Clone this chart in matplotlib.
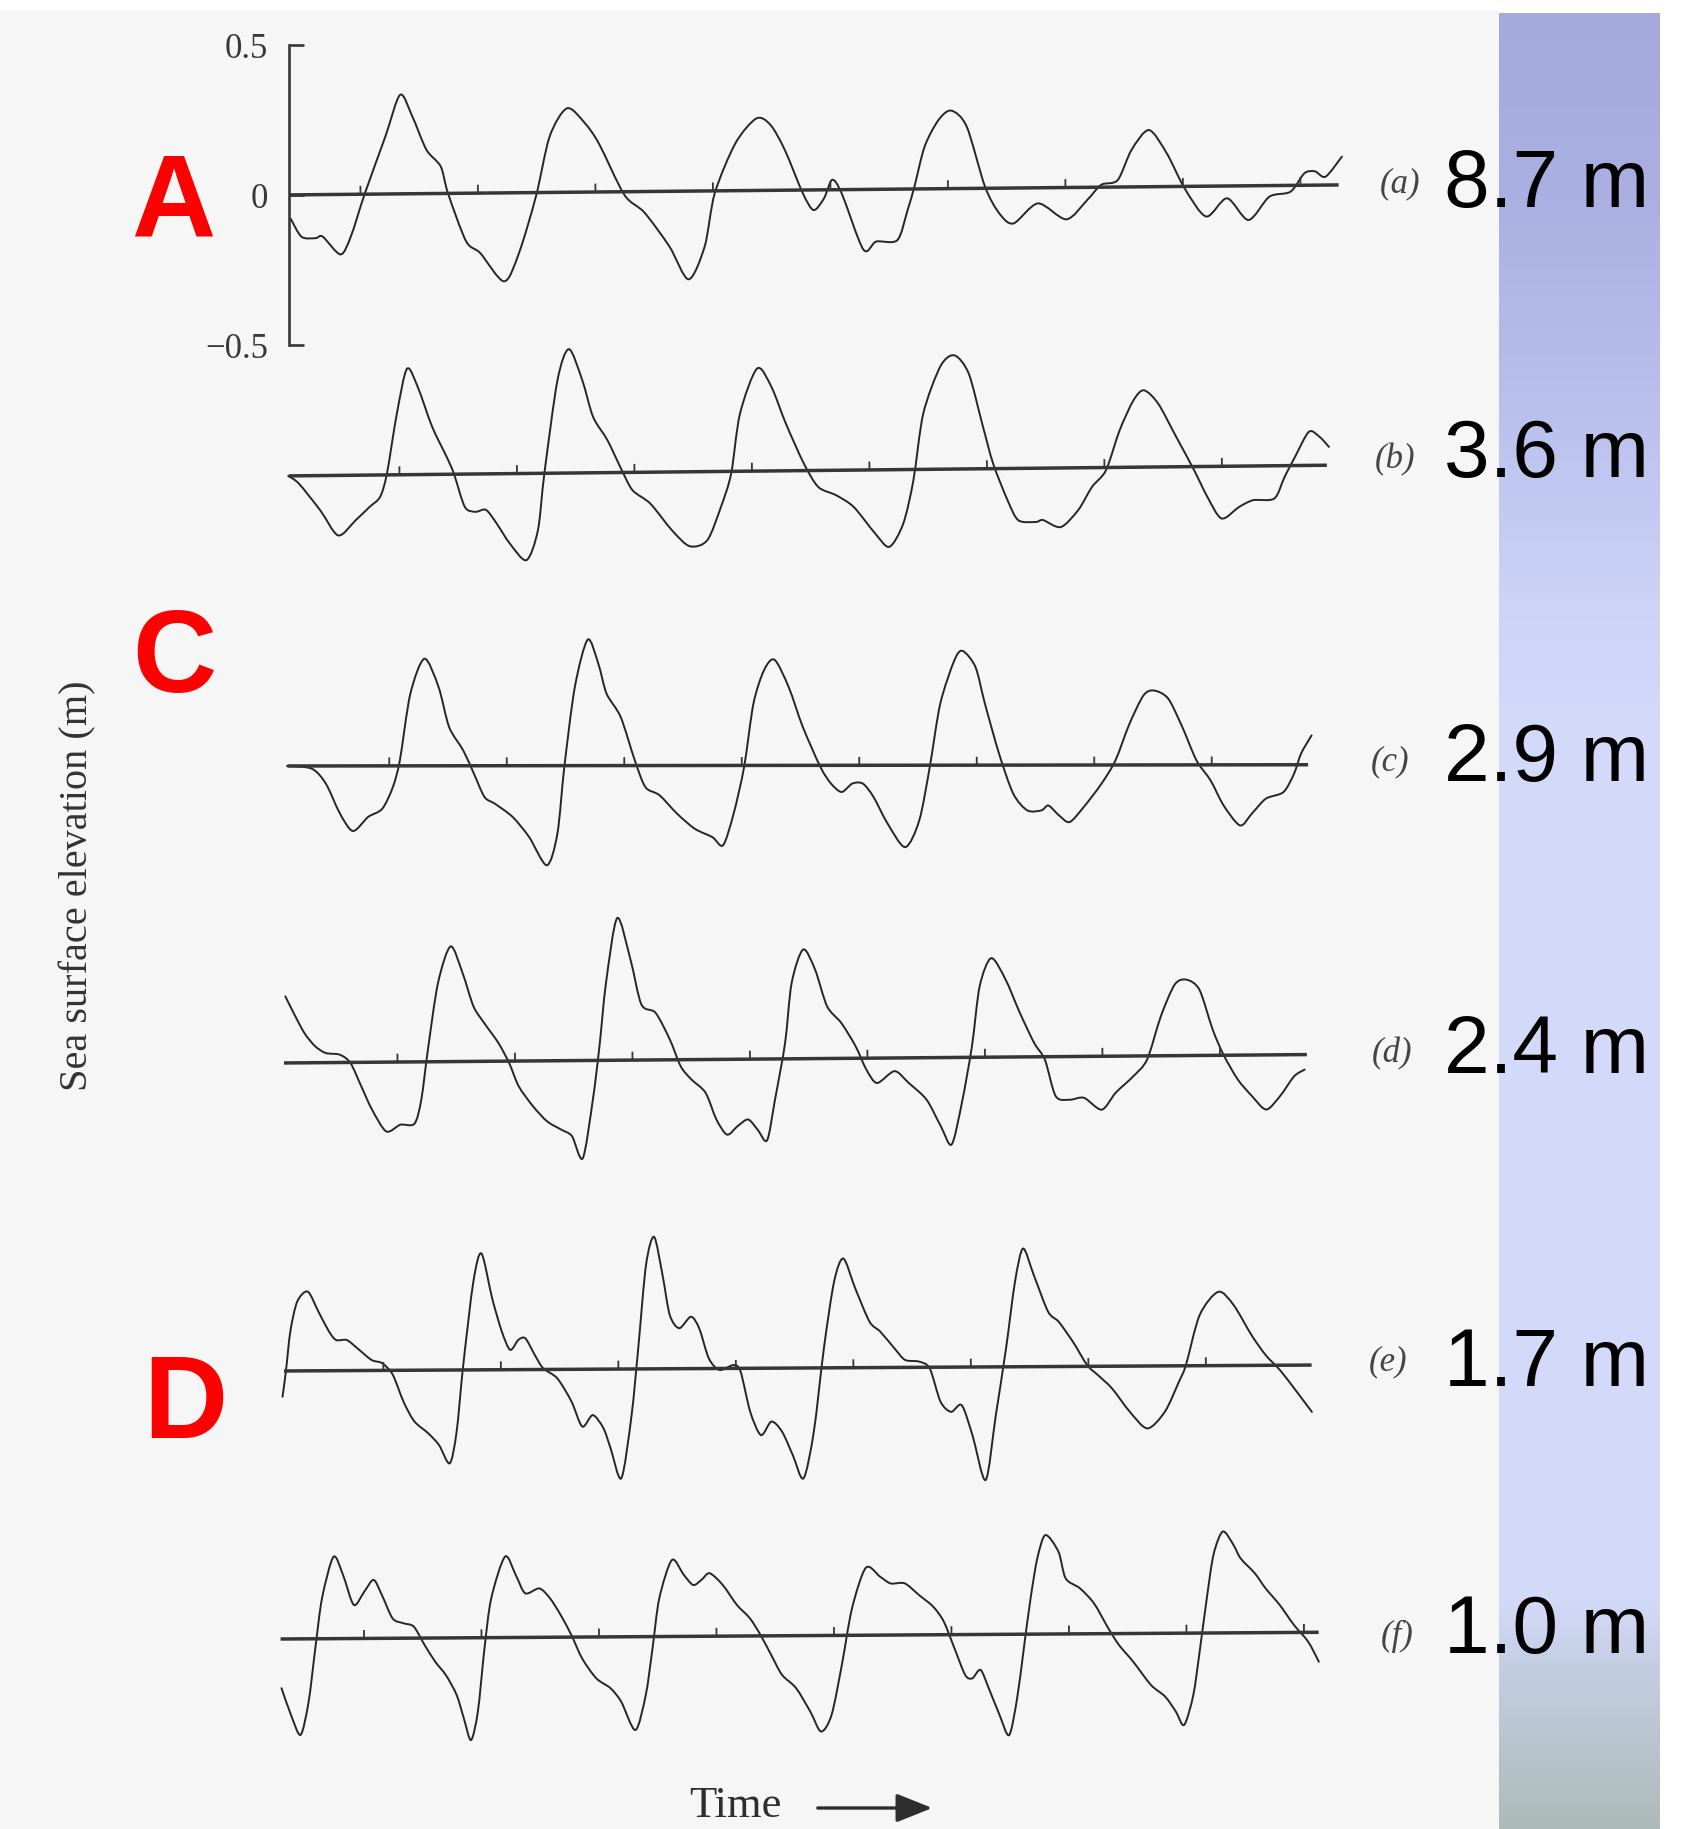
import numpy as np
import matplotlib
matplotlib.use("Agg")
import matplotlib.pyplot as plt
from matplotlib.colors import to_rgb
from matplotlib.patches import Rectangle, FancyArrowPatch, PathPatch
from matplotlib.path import Path
from matplotlib.transforms import Affine2D

# ---------------------------------------------------------------------------
# Sea surface elevation records (time in record units, elevation in metres)
# ---------------------------------------------------------------------------
T_A = [0.09, 0.18, 0.30, 0.36, 0.51, 0.60, 0.72, 0.90, 1.03, 1.13, 1.25, 1.37, 1.43, 1.58, 1.70,
       1.90, 2.03, 2.18, 2.30, 2.45, 2.60, 2.72, 2.93, 3.10, 3.31, 3.47, 3.61, 3.70, 3.88, 4.06,
       4.18, 4.30, 4.45, 4.54, 4.63, 4.70, 4.78, 4.96, 5.07, 5.25, 5.34, 5.40, 5.49, 5.61, 5.72,
       5.85, 6.00, 6.12, 6.24, 6.45, 6.69, 6.87, 6.99, 7.13, 7.25, 7.40, 7.55, 7.70, 7.88, 8.06,
       8.24, 8.42, 8.60, 8.72, 8.81, 8.90, 9.04]
ETA_A = [-0.08, -0.14, -0.145, -0.14, -0.20, -0.14, 0.0, 0.19, 0.33, 0.26, 0.146, 0.09, 0.0, -0.16,
         -0.20, -0.295, -0.20, -0.01, 0.187, 0.28, 0.23, 0.16, -0.01, -0.07, -0.184, -0.294,
         -0.185, -0.008, 0.158, 0.24, 0.218, 0.134, -0.011, -0.067, -0.028, 0.033, -0.012, -0.20,
         -0.174, -0.17, -0.07, 0.008, 0.141, 0.229, 0.26, 0.206, 0.006, -0.084, -0.118, -0.052,
         -0.106, -0.042, 0.008, 0.023, 0.123, 0.189, 0.111, -0.007, -0.101, -0.041, -0.114,
         -0.037, -0.021, 0.04, 0.046, 0.028, 0.094]

T_B = [0.07, 0.16, 0.34, 0.49, 0.64, 0.76, 0.85, 0.91, 1.00, 1.09, 1.18, 1.30, 1.42, 1.48, 1.57,
       1.66, 1.75, 1.84, 1.95, 2.09, 2.19, 2.25, 2.37, 2.47, 2.58, 2.67, 2.79, 2.91, 3.00, 3.15,
       3.33, 3.48, 3.63, 3.75, 3.84, 3.92, 4.07, 4.19, 4.31, 4.46, 4.58, 4.73, 4.88, 5.06, 5.18,
       5.30, 5.39, 5.48, 5.63, 5.75, 5.87, 5.98, 6.07, 6.19, 6.28, 6.43, 6.49, 6.64, 6.79, 6.91,
       7.03, 7.15, 7.27, 7.36, 7.48, 7.63, 7.78, 7.89, 8.01, 8.16, 8.28, 8.46, 8.55, 8.64, 8.76,
       8.85, 8.93]
ETA_B = [0.0, -0.026, -0.116, -0.20, -0.15, -0.106, -0.073, 0.004, 0.204, 0.353, 0.292, 0.158,
         0.058, 0.002, -0.109, -0.126, -0.12, -0.166, -0.233, -0.289, -0.19, -0.001, 0.31, 0.413,
         0.31, 0.186, 0.108, 0.007, -0.06, -0.105, -0.194, -0.248, -0.229, -0.118, -0.007, 0.192,
         0.342, 0.28, 0.157, 0.023, -0.055, -0.083, -0.123, -0.212, -0.257, -0.18, -0.036, 0.186,
         0.343, 0.379, 0.318, 0.151, 0.017, -0.106, -0.173, -0.179, -0.173, -0.197, -0.141,
         -0.064, -0.009, 0.124, 0.223, 0.256, 0.211, 0.1, -0.012, -0.101, -0.174, -0.136, -0.114,
         -0.109, -0.037, 0.029, 0.112, 0.095, 0.061]

T_C = [0.06, 0.27, 0.39, 0.51, 0.62, 0.75, 0.87, 0.96, 1.02, 1.11, 1.23, 1.35, 1.44, 1.56, 1.65,
       1.74, 1.83, 1.98, 2.12, 2.27, 2.36, 2.42, 2.51, 2.62, 2.71, 2.78, 2.90, 3.02, 3.11, 3.23,
       3.38, 3.53, 3.68, 3.77, 3.86, 3.95, 4.03, 4.12, 4.21, 4.33, 4.45, 4.60, 4.69, 4.78, 4.87,
       4.96, 5.05, 5.17, 5.32, 5.44, 5.53, 5.62, 5.74, 5.81, 5.92, 6.00, 6.12, 6.24, 6.36, 6.48,
       6.54, 6.63, 6.72, 6.84, 6.99, 7.11, 7.23, 7.35, 7.44, 7.56, 7.68, 7.80, 7.92, 8.03, 8.17,
       8.27, 8.39, 8.54, 8.63, 8.69, 8.78]
ETA_C = [0.0, -0.009, -0.059, -0.159, -0.217, -0.17, -0.143, -0.071, 0.018, 0.24, 0.357, 0.263,
         0.129, 0.051, -0.026, -0.104, -0.127, -0.171, -0.238, -0.332, -0.227, -0.004, 0.262,
         0.42, 0.34, 0.24, 0.162, 0.017, -0.072, -0.099, -0.161, -0.211, -0.239, -0.266, -0.161,
         -0.005, 0.206, 0.317, 0.352, 0.261, 0.128, -0.006, -0.061, -0.089, -0.061, -0.061,
         -0.105, -0.194, -0.273, -0.184, -0.006, 0.205, 0.349, 0.381, 0.327, 0.205, 0.038,
         -0.095, -0.151, -0.151, -0.135, -0.168, -0.19, -0.14, -0.063, 0.015, 0.137, 0.232,
         0.248, 0.221, 0.126, 0.015, -0.052, -0.135, -0.202, -0.163, -0.113, -0.091, -0.03,
         0.037, 0.098]

T_D = [0.05, 0.12, 0.21, 0.30, 0.39, 0.51, 0.60, 0.69, 0.78, 0.90, 1.02, 1.14, 1.20, 1.26, 1.35,
       1.46, 1.56, 1.65, 1.74, 1.86, 1.95, 2.03, 2.15, 2.27, 2.39, 2.48, 2.57, 2.66, 2.72, 2.78,
       2.88, 2.99, 3.08, 3.20, 3.32, 3.41, 3.50, 3.62, 3.71, 3.80, 3.89, 3.98, 4.06, 4.14, 4.21,
       4.30, 4.36, 4.46, 4.56, 4.66, 4.78, 4.90, 4.99, 5.08, 5.23, 5.35, 5.50, 5.62, 5.71, 5.80,
       5.89, 5.96, 6.06, 6.18, 6.30, 6.42, 6.51, 6.60, 6.72, 6.84, 6.99, 7.11, 7.26, 7.38, 7.50,
       7.62, 7.72, 7.83, 7.94, 8.03, 8.15, 8.27, 8.39, 8.51, 8.63, 8.72]
ETA_D = [0.222, 0.166, 0.099, 0.055, 0.032, 0.026, -0.002, -0.08, -0.158, -0.231, -0.209,
         -0.206, -0.126, 0.041, 0.262, 0.384, 0.295, 0.184, 0.128, 0.061, -0.006, -0.084,
         -0.151, -0.202, -0.23, -0.252, -0.326, -0.131, 0.047, 0.258, 0.474, 0.335, 0.185,
         0.157, 0.067, -0.022, -0.066, -0.111, -0.2, -0.251, -0.223, -0.201, -0.235, -0.271,
         -0.136, 0.053, 0.253, 0.364, 0.297, 0.174, 0.118, 0.04, -0.038, -0.083, -0.044, -0.084,
         -0.14, -0.229, -0.29, -0.152, 0.037, 0.237, 0.33, 0.259, 0.147, 0.046, -0.01, -0.132,
         -0.144, -0.138, -0.178, -0.122, -0.068, -0.012, 0.132, 0.237, 0.253, 0.219, 0.086,
         0.002, -0.081, -0.137, -0.182, -0.137, -0.072, -0.05]

T_E = [0.02, 0.05, 0.09, 0.15, 0.24, 0.33, 0.42, 0.48, 0.57, 0.66, 0.78, 0.87, 0.96, 1.05, 1.14,
       1.26, 1.35, 1.44, 1.50, 1.56, 1.65, 1.72, 1.81, 1.89, 1.96, 2.03, 2.09, 2.17, 2.24, 2.36,
       2.48, 2.57, 2.66, 2.75, 2.81, 2.90, 2.99, 3.05, 3.12, 3.19, 3.26, 3.32, 3.40, 3.50, 3.57,
       3.65, 3.74, 3.86, 3.92, 4.00, 4.09, 4.18, 4.27, 4.36, 4.45, 4.54, 4.63, 4.72, 4.80, 4.90,
       5.02, 5.11, 5.23, 5.32, 5.44, 5.53, 5.62, 5.71, 5.80, 5.89, 6.00, 6.09, 6.18, 6.26, 6.33,
       6.42, 6.54, 6.63, 6.75, 6.87, 6.96, 7.08, 7.23, 7.38, 7.53, 7.65, 7.71, 7.83, 7.99, 8.12,
       8.27, 8.39, 8.51, 8.63, 8.78]
ETA_E = [-0.086, -0.002, 0.132, 0.231, 0.264, 0.197, 0.13, 0.102, 0.102, 0.074, 0.035, 0.024,
         -0.015, -0.105, -0.17, -0.211, -0.25, -0.311, -0.206, 0.017, 0.294, 0.388, 0.237,
         0.127, 0.066, 0.099, 0.104, 0.048, 0.004, -0.03, -0.108, -0.191, -0.153, -0.197,
         -0.264, -0.364, -0.154, 0.069, 0.346, 0.44, 0.313, 0.179, 0.135, 0.173, 0.134, 0.034,
         -0.005, 0.011, -0.011, -0.145, -0.223, -0.178, -0.212, -0.29, -0.368, -0.213, 0.065,
         0.287, 0.364, 0.264, 0.153, 0.12, 0.064, 0.025, 0.019, -0.004, -0.115, -0.149, -0.127,
         -0.227, -0.377, -0.161, 0.061, 0.284, 0.394, 0.305, 0.183, 0.149, 0.082, 0.004, -0.029,
         -0.074, -0.152, -0.208, -0.152, -0.053, 0.002, 0.169, 0.246, 0.201, 0.101, 0.034,
         -0.016, -0.077, -0.156]

T_F = [0.01, 0.09, 0.17, 0.24, 0.30, 0.36, 0.46, 0.54, 0.63, 0.72, 0.80, 0.87, 0.96, 1.05, 1.14,
       1.23, 1.32, 1.41, 1.50, 1.56, 1.62, 1.68, 1.74, 1.80, 1.92, 2.01, 2.09, 2.21, 2.30, 2.39,
       2.48, 2.57, 2.69, 2.81, 2.90, 3.02, 3.11, 3.17, 3.23, 3.34, 3.44, 3.52, 3.59, 3.66, 3.77,
       3.89, 4.00, 4.09, 4.18, 4.27, 4.39, 4.51, 4.60, 4.69, 4.78, 4.87, 4.99, 5.11, 5.20, 5.32,
       5.44, 5.56, 5.65, 5.74, 5.83, 5.89, 5.96, 6.03, 6.12, 6.20, 6.27, 6.33, 6.39, 6.45, 6.52,
       6.63, 6.69, 6.81, 6.93, 7.05, 7.14, 7.26, 7.41, 7.53, 7.62, 7.69, 7.77, 7.83, 7.89, 7.95,
       8.03, 8.12, 8.18, 8.30, 8.39, 8.51, 8.63, 8.75, 8.84]
ETA_F = [-0.164, -0.254, -0.32, -0.21, -0.032, 0.135, 0.273, 0.212, 0.112, 0.156, 0.195, 0.144,
         0.066, 0.05, 0.038, -0.023, -0.079, -0.124, -0.19, -0.268, -0.341, -0.246, -0.035,
         0.131, 0.27, 0.208, 0.147, 0.163, 0.13, 0.074, 0.007, -0.071, -0.138, -0.171, -0.216,
         -0.311, -0.194, -0.039, 0.127, 0.255, 0.205, 0.171, 0.188, 0.21, 0.171, 0.104, 0.059,
         0.003, -0.064, -0.13, -0.175, -0.254, -0.32, -0.265, -0.099, 0.09, 0.225, 0.195, 0.172,
         0.172, 0.133, 0.094, 0.044, -0.046, -0.135, -0.146, -0.118, -0.18, -0.269, -0.336,
         -0.214, -0.047, 0.119, 0.253, 0.33, 0.274, 0.185, 0.152, 0.101, 0.018, -0.038, -0.094,
         -0.172, -0.211, -0.261, -0.306, -0.206, -0.051, 0.116, 0.262, 0.338, 0.293, 0.248,
         0.198, 0.148, 0.092, 0.025, -0.031, -0.098]

RECORD_LABELS = ["a", "b", "c", "d", "e", "f"]
WATER_DEPTHS_M = [8.7, 3.6, 2.9, 2.4, 1.7, 1.0]
ELEV_TICKS = [-0.5, 0.0, 0.5]
ELEV_TICK_LABELS = ["\u22120.5", "0", "0.5"]

TIMES = [T_A, T_B, T_C, T_D, T_E, T_F]
ETAS = [ETA_A, ETA_B, ETA_C, ETA_D, ETA_E, ETA_F]

# ---------------------------------------------------------------------------
# Layout (figure pixels, measured from the top-left corner)
# ---------------------------------------------------------------------------
W, H, DPI = 1696, 1829, 100
PLOT_LEFT, PLOT_RIGHT = 280, 1341
T_RANGE = (0.0, 9.03)
PX_PER_M = 300
BASE_Y = [195, 476, 766, 1063, 1371, 1639]
TILT_DEG = [0.545, 0.59, 0.07, 0.47, 0.33, 0.37]
BASE_SPAN = [(0.077, 9.01), (0.074, 8.91), (0.064, 8.75), (0.034, 8.74), (0.034, 8.78), (0.005, 8.84)]
TICK_PHASE = [0.685, 1.017, 0.93, 1.0, 0.88, 0.715]
BRACKET_T = 0.077

TAG_POS = [(1400, 184), (1395, 460), (1390, 762), (1392, 1054), (1388, 1362), (1397, 1636)]
DEPTH_X = 1444
DEPTH_BASELINE = [207, 477, 781, 1073, 1386, 1653]
SITE_MARKS = [("A", 173, 237), ("C", 174, 692), ("D", 185, 1438)]

SERIF = ["Liberation Serif", "DejaVu Serif"]
SANS = ["Liberation Sans", "DejaVu Sans"]
INK = "#262626"
AXIS_INK = "#363636"


def fx(px):
    return px / W


def fy(py):
    return 1.0 - py / H


def smooth_path(xs, ys, tension=0.85):
    """Cubic Bezier path passing through every sample (Catmull-Rom tangents)."""
    p = np.column_stack([xs, ys]).astype(float)
    ext = np.vstack([p[0], p, p[-1]])
    verts = [p[0]]
    codes = [Path.MOVETO]
    for k in range(len(p) - 1):
        p0, p1, p2, p3 = ext[k], ext[k + 1], ext[k + 2], ext[k + 3]
        c1 = p1 + (p2 - p0) * tension / 6.0
        c2 = p2 - (p3 - p1) * tension / 6.0
        verts.extend([c1, c2, p2])
        codes.extend([Path.CURVE4] * 3)
    return Path(np.array(verts), codes)


fig = plt.figure(figsize=(W / DPI, H / DPI), dpi=DPI)
fig.patch.set_facecolor("white")

# scanned page tone
fig.add_artist(Rectangle((0, 0), fx(1499), fy(10), transform=fig.transFigure,
                         facecolor="#f6f6f6", edgecolor="none", zorder=0))

# vertical colour strip behind the depth labels
band_top = 13
band = fig.add_axes([fx(1499), 0.0, fx(1660) - fx(1499), fy(band_top)])
stop_y = [13, 200, 420, 600, 760, 1600, 1665, 1829]
stop_c = ["#a4aadb", "#aab0e1", "#bac1ed", "#ccd3f6", "#d4dbfa", "#d3daf9", "#c4cee3", "#acbbb8"]
rows = np.arange(band_top, H + 1)
rgb = np.array([to_rgb(c) for c in stop_c])
grad = np.stack([np.interp(rows, stop_y, rgb[:, k]) for k in range(3)], axis=-1)[:, None, :]
band.imshow(grad, aspect="auto", interpolation="bilinear", extent=(0, 1, len(rows), 0))
band.set_axis_off()

# one strip of axes per record
for i, (tt, ee) in enumerate(zip(TIMES, ETAS)):
    by = BASE_Y[i]
    ax = fig.add_axes([fx(PLOT_LEFT), fy(by + PX_PER_M / 2),
                       (PLOT_RIGHT - PLOT_LEFT) / W, PX_PER_M / H])
    ax.set_xlim(*T_RANGE)
    ax.set_ylim(-0.5, 0.5)
    ax.patch.set_visible(False)
    for s in ax.spines.values():
        s.set_visible(False)
    ax.set_xticks([])
    ax.set_yticks([])

    x0, y0 = ax.transData.transform((0.0, 0.0))
    tr = ax.transData + Affine2D().rotate_deg_around(x0, y0, TILT_DEG[i])

    ax.plot(BASE_SPAN[i], [0.0, 0.0], color=AXIS_INK, lw=2.5, transform=tr,
            clip_on=False, solid_capstyle="butt")
    ticks = np.arange(TICK_PHASE[i], BASE_SPAN[i][1] - 0.1, 1.0)
    ax.vlines(ticks, 0.0, 0.028, colors=AXIS_INK, lw=1.3, transform=tr, clip_on=False)
    ax.add_patch(PathPatch(smooth_path(tt, ee), facecolor="none", edgecolor=INK,
                           lw=1.4, transform=tr, clip_on=False, joinstyle="round",
                           capstyle="round"))

    if i == 0:
        sp = ax.spines["left"]
        sp.set_visible(True)
        sp.set_position(("data", BRACKET_T))
        sp.set_bounds(-0.5, 0.5)
        sp.set_linewidth(1.9)
        sp.set_color(AXIS_INK)
        ax.set_yticks(ELEV_TICKS, labels=ELEV_TICK_LABELS)
        ax.tick_params(axis="y", direction="in", length=11, width=1.9, pad=15,
                       labelsize=25, color=AXIS_INK, labelcolor="#383838")
        for lab in ax.get_yticklabels():
            lab.set_fontfamily(SERIF)

# record tags and water depths
for (tx, ty), lab, base_y, depth in zip(TAG_POS, RECORD_LABELS, DEPTH_BASELINE, WATER_DEPTHS_M):
    fig.text(fx(tx), fy(ty), f"({lab})", ha="center", va="center", fontsize=25,
             style="italic", family=SERIF, color="#454545")
    fig.text(fx(DEPTH_X), fy(base_y), f"{depth:.1f} m", ha="left", va="baseline",
             fontsize=59, family=SANS, color="black")

# site letters
for s, x, yb in SITE_MARKS:
    fig.text(fx(x), fy(yb), s, ha="center", va="baseline", fontsize=84,
             fontweight="bold", family=SANS, color="#ff0000")

# axis captions
fig.text(fx(78), fy(886), "Sea surface elevation (m)", rotation=90, ha="center",
         va="center", fontsize=29, family=SERIF, color="#333333")
fig.text(fx(735), fy(1806), "Time", ha="center", va="center", fontsize=32,
         family=SERIF, color="#2e2e2e")
fig.add_artist(FancyArrowPatch((fx(815), fy(1808)), (fx(935), fy(1808)),
                               transform=fig.transFigure,
                               arrowstyle="-|>,head_length=1.0,head_width=0.4",
                               mutation_scale=22, lw=2.4, color="#2e2e2e"))

fig.savefig("out.png", dpi=DPI, facecolor=fig.get_facecolor())
